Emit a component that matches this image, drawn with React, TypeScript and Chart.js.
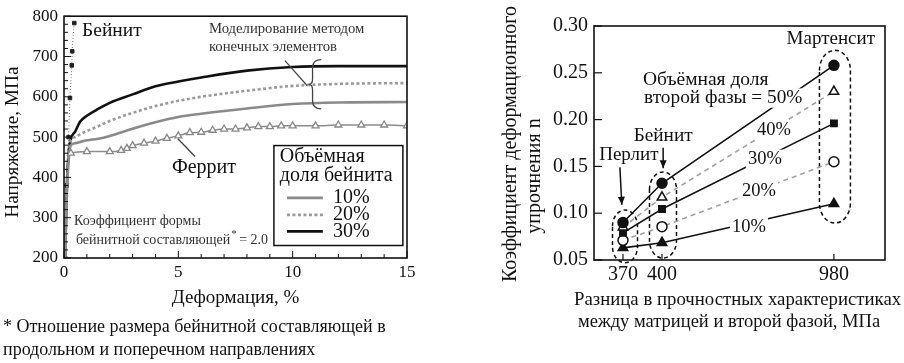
import React, { useEffect, useRef } from 'react';
import { Chart, registerables } from 'chart.js';
Chart.register(...registerables);

const FONT = '"Liberation Serif", "Times New Roman", serif';

// ---------- Left chart data (strain %, stress MPa) ----------
const femStrain = [0.05, 0.12, 0.2, 0.3, 0.5, 0.7, 1, 1.5, 2, 3, 4, 5, 6, 8, 10, 12, 15];
const fem10Stress = [200, 350, 440, 480, 485, 488, 492, 496, 503, 521, 537, 550, 558, 571, 582, 586, 587];
const fem20Stress = [200, 360, 450, 492, 500, 507, 515, 527, 540, 560, 577, 590, 600, 615, 627, 632, 634];
const fem30Stress = [200, 370, 460, 495, 515, 538, 553, 570, 585, 606, 626, 638, 648, 665, 674, 676, 676];

const ferriteStrain = [0.05, 0.15, 0.3, 1, 2, 2.5, 2.75, 3, 3.5, 4, 4.5, 5, 5.5, 6, 6.5, 7, 7.5, 8, 8.5, 9, 9.5, 10, 11, 12, 13, 14, 15];
const ferriteStress = [200, 400, 460, 464, 464, 467, 472, 479, 485, 490, 497, 503, 511, 512, 517, 520, 520, 523, 526, 526, 528, 528, 528, 530, 530, 530, 528];

const bainiteStrain = [0.05, 0.12, 0.2, 0.26, 0.34, 0.36, 0.45];
const bainiteStress = [200, 380, 500, 597, 678, 713, 783];

const leftXTicks = [0, 5, 10, 15];
const leftYTicks = [200, 300, 400, 500, 600, 700, 800];

// ---------- Right chart data ----------
const diffLabels = ['370', '400', '980'];
const diffSlots = [0, 1, 5.41];
const frac50 = [0.090, 0.132, 0.258];
const frac40 = [0.085, 0.117, 0.230];
const frac30 = [0.079, 0.1045, 0.196];
const frac20 = [0.071, 0.0856, 0.155];
const frac10 = [0.063, 0.0685, 0.110];
const rightYTicks = [0.05, 0.10, 0.15, 0.20, 0.25, 0.30];

const pts = (xs: number[], ys: number[]) => xs.map((x, i) => ({ x, y: ys[i] }));

function text(ctx: CanvasRenderingContext2D, s: string, x: number, y: number, size: number, align: CanvasTextAlign = 'left', color = '#111', bg = false) {
  ctx.save();
  ctx.font = `${size}px ${FONT}`;
  ctx.textAlign = align;
  ctx.textBaseline = 'middle';
  if (bg) {
    const w = ctx.measureText(s).width;
    let x0 = x;
    if (align === 'center') x0 = x - w / 2;
    else if (align === 'right') x0 = x - w;
    ctx.fillStyle = '#fff';
    ctx.fillRect(x0 - 2, y - size * 0.5, w + 4, size);
  }
  ctx.fillStyle = color;
  ctx.fillText(s, x, y);
  ctx.restore();
}

function vtext(ctx: CanvasRenderingContext2D, s: string, x: number, y: number, size: number) {
  ctx.save();
  ctx.translate(x, y);
  ctx.rotate(-Math.PI / 2);
  ctx.font = `${size}px ${FONT}`;
  ctx.textAlign = 'center';
  ctx.textBaseline = 'middle';
  ctx.fillStyle = '#111';
  ctx.fillText(s, 0, 0);
  ctx.restore();
}

function line(ctx: CanvasRenderingContext2D, x1: number, y1: number, x2: number, y2: number, color = '#111', w = 1.2) {
  ctx.save();
  ctx.strokeStyle = color;
  ctx.lineWidth = w;
  ctx.beginPath();
  ctx.moveTo(x1, y1);
  ctx.lineTo(x2, y2);
  ctx.stroke();
  ctx.restore();
}

function arrow(ctx: CanvasRenderingContext2D, x1: number, y1: number, x2: number, y2: number) {
  line(ctx, x1, y1, x2, y2, '#111', 1.5);
  const a = Math.atan2(y2 - y1, x2 - x1);
  ctx.save();
  ctx.fillStyle = '#111';
  ctx.beginPath();
  ctx.moveTo(x2, y2);
  ctx.lineTo(x2 - 8 * Math.cos(a) + 3.5 * Math.sin(a), y2 - 8 * Math.sin(a) - 3.5 * Math.cos(a));
  ctx.lineTo(x2 - 8 * Math.cos(a) - 3.5 * Math.sin(a), y2 - 8 * Math.sin(a) + 3.5 * Math.cos(a));
  ctx.closePath();
  ctx.fill();
  ctx.restore();
}

function capsule(ctx: CanvasRenderingContext2D, cx: number, top: number, bottom: number, hw: number) {
  const ry = hw * 1.3;
  ctx.save();
  ctx.strokeStyle = '#111';
  ctx.lineWidth = 1.5;
  ctx.setLineDash([4, 3]);
  ctx.beginPath();
  ctx.ellipse(cx, top + ry, hw, ry, 0, Math.PI, 2 * Math.PI);
  ctx.lineTo(cx + hw, bottom - ry);
  ctx.ellipse(cx, bottom - ry, hw, ry, 0, 0, Math.PI);
  ctx.closePath();
  ctx.stroke();
  ctx.restore();
}

const leftPlugin = {
  id: 'leftDeco',
  afterDatasetsDraw(chart: any) {
    const ctx: CanvasRenderingContext2D = chart.ctx;
    const xs = chart.scales.x, ys = chart.scales.y;
    const X = (v: number) => xs.getPixelForValue(v);
    const Y = (v: number) => ys.getPixelForValue(v);
    const a = chart.chartArea;
    // frame
    ctx.save();
    ctx.strokeStyle = '#111';
    ctx.lineWidth = 1.6;
    ctx.strokeRect(a.left, a.top, a.right - a.left, a.bottom - a.top);
    ctx.restore();
    // inward ticks
    for (let v = 200; v <= 800; v += 20) {
      const major = v % 100 === 0;
      line(ctx, a.left, Y(v), a.left + (major ? 7 : 4), Y(v), '#111', 1);
    }
    for (let v = 0; v <= 15; v += 1) {
      const major = v % 5 === 0;
      line(ctx, X(v), a.bottom, X(v), a.bottom - (major ? 7 : 4), '#111', 1);
    }
    // annotations
    text(ctx, 'Бейнит', X(0.79), Y(763), 19.5);
    text(ctx, 'Моделирование методом', X(6.34), Y(768), 14.7, 'left', '#333');
    text(ctx, 'конечных элементов', X(6.34), Y(722), 14.7, 'left', '#333');
    line(ctx, X(9.66), Y(690), X(10.63), Y(628), '#444', 1.2);
    // brace
    ctx.save();
    ctx.strokeStyle = '#444';
    ctx.lineWidth = 1.3;
    ctx.beginPath();
    ctx.moveTo(X(11.25), Y(692));
    ctx.quadraticCurveTo(X(10.87), Y(692), X(10.87), Y(672));
    ctx.lineTo(X(10.87), Y(645));
    ctx.quadraticCurveTo(X(10.87), Y(631), X(10.7), Y(631));
    ctx.quadraticCurveTo(X(10.87), Y(631), X(10.87), Y(617));
    ctx.lineTo(X(10.87), Y(590));
    ctx.quadraticCurveTo(X(10.87), Y(570), X(11.25), Y(570));
    ctx.stroke();
    ctx.restore();
    text(ctx, 'Феррит', X(4.72), Y(425), 20);
    line(ctx, X(4.98), Y(496), X(5.73), Y(452), '#444', 1.3);
    // legend box
    ctx.save();
    ctx.fillStyle = '#fff';
    ctx.fillRect(X(9.18), Y(479), X(14.82) - X(9.18), Y(231) - Y(479));
    ctx.strokeStyle = '#111';
    ctx.lineWidth = 1.5;
    ctx.strokeRect(X(9.18), Y(479), X(14.82) - X(9.18), Y(231) - Y(479));
    ctx.restore();
    text(ctx, 'Объёмная', X(9.44), Y(452), 20);
    text(ctx, 'доля бейнита', X(9.44), Y(405), 20);
    const legendRows: [string, string, number[], number][] = [
      ['10%', '#8a8a8a', [], 349],
      ['20%', '#9a9a9a', [3, 2.5], 307],
      ['30%', '#111', [], 266],
    ];
    legendRows.forEach(([lab, col, dash, v]) => {
      ctx.save();
      ctx.strokeStyle = col;
      ctx.lineWidth = 2.8;
      ctx.setLineDash(dash);
      ctx.beginPath();
      ctx.moveTo(X(9.75), Y(v));
      ctx.lineTo(X(11.32), Y(v));
      ctx.stroke();
      ctx.restore();
      text(ctx, lab, X(11.76), Y(v), 20);
    });
    text(ctx, 'Коэффициент формы', X(0.44), Y(290), 14, 'left', '#333');
    ctx.save();
    ctx.font = `14px ${FONT}`;
    const s1 = 'бейнитной составляющей';
    const w1 = ctx.measureText(s1).width;
    ctx.restore();
    text(ctx, s1, X(0.52), Y(244), 14, 'left', '#333');
    text(ctx, '*', X(0.52) + w1 + 1, Y(244) - 6, 11, 'left', '#333');
    text(ctx, '= 2.0', X(0.52) + w1 + 9, Y(244), 14, 'left', '#333');
  },
  afterDraw(chart: any) {
    const ctx: CanvasRenderingContext2D = chart.ctx;
    const a = chart.chartArea;
    vtext(ctx, 'Напряжение, МПа', 13, (a.top + a.bottom) / 2 + 5, 19.3);
    text(ctx, 'Деформация, %', (a.left + a.right) / 2, 298, 19, 'center');
    text(ctx, '* Отношение размера бейнитной составляющей в', 3, 327, 18);
    text(ctx, 'продольном и поперечном направлениях', 3, 350, 18);
  },
};

const rightPlugin = {
  id: 'rightDeco',
  beforeDatasetsDraw(chart: any) {
    const ctx: CanvasRenderingContext2D = chart.ctx;
    const xs = chart.scales.x, ys = chart.scales.y;
    const X = (v: number) => xs.getPixelForValue(v);
    const Y = (v: number) => ys.getPixelForValue(v);
    capsule(ctx, X(diffSlots[0]) + 2, Y(0.1034), Y(0.047), 12.5);
    capsule(ctx, X(diffSlots[1]) + 1, Y(0.144), Y(0.052), 13.5);
    capsule(ctx, X(diffSlots[2]) + 1, Y(0.274), Y(0.0895), 15.5);
  },
  afterDatasetsDraw(chart: any) {
    const ctx: CanvasRenderingContext2D = chart.ctx;
    const xs = chart.scales.x, ys = chart.scales.y;
    const X = (v: number) => xs.getPixelForValue(v);
    const Y = (v: number) => ys.getPixelForValue(v);
    const a = chart.chartArea;
    ctx.save();
    ctx.strokeStyle = '#111';
    ctx.lineWidth = 1.6;
    ctx.strokeRect(a.left, a.top, a.right - a.left, a.bottom - a.top);
    ctx.restore();
    rightYTicks.forEach((v) => line(ctx, a.left, Y(v), a.left + 8, Y(v), '#111', 1.2));
    diffSlots.forEach((v) => line(ctx, X(v), a.bottom, X(v), a.bottom - 6, '#111', 1.2));
    text(ctx, 'Мартенсит', X(5.33), Y(0.286), 19, 'center');
    text(ctx, 'Объёмная доля', X(0.51), Y(0.2423), 19.5);
    text(ctx, 'второй фазы = 50%', X(0.54), Y(0.223), 19.3, 'left', '#111', true);
    text(ctx, '40%', X(3.87), Y(0.189), 18.5, 'center', '#111', true);
    text(ctx, '30%', X(3.64), Y(0.158), 18.5, 'center', '#111', true);
    text(ctx, '20%', X(3.49), Y(0.1237), 18.5, 'center', '#111', true);
    text(ctx, '10%', X(3.23), Y(0.0853), 18.5, 'center', '#111', true);
    text(ctx, 'Бейнит', X(1.03), Y(0.1825), 19.3, 'center');
    text(ctx, 'Перлит', X(0.15), Y(0.162), 19, 'center');
    arrow(ctx, X(-0.08), Y(0.149), X(-0.03), Y(0.109));
    arrow(ctx, X(1.03), Y(0.170), X(1.03), Y(0.148));
  },
  afterDraw(chart: any) {
    const ctx: CanvasRenderingContext2D = chart.ctx;
    vtext(ctx, 'Коэффициент деформационного', 61, 144, 20);
    vtext(ctx, 'упрочнения n', 85, 176, 20);
    text(ctx, 'Разница в прочностных характеристиках', 124, 300, 18.8);
    text(ctx, 'между матрицей и второй фазой, МПа', 128, 322, 18.5);
  },
};

export default function App() {
  const leftRef = useRef<HTMLCanvasElement>(null);
  const rightRef = useRef<HTMLCanvasElement>(null);

  useEffect(() => {
    const tickFont = (size: number) => ({ family: FONT, size });
    const left = new Chart(leftRef.current!, {
      type: 'line',
      data: {
        datasets: [
          {
            data: pts(ferriteStrain, ferriteStress),
            borderColor: '#8c8c8c', borderWidth: 1.5,
            pointStyle: 'triangle',
            pointRadius: (c: any) => (c.dataIndex < 2 ? 0 : 4),
            pointBackgroundColor: '#fff', pointBorderColor: '#888', pointBorderWidth: 1.3,
            cubicInterpolationMode: 'monotone',
          },
          {
            data: pts(femStrain, fem10Stress),
            borderColor: '#8a8a8a', borderWidth: 2.6, pointRadius: 0,
            cubicInterpolationMode: 'monotone',
          },
          {
            data: pts(femStrain, fem20Stress),
            borderColor: '#9a9a9a', borderWidth: 2.6, borderDash: [3, 2.5], pointRadius: 0,
            cubicInterpolationMode: 'monotone',
          },
          {
            data: pts(femStrain, fem30Stress),
            borderColor: '#111', borderWidth: 2.6, pointRadius: 0,
            cubicInterpolationMode: 'monotone',
          },
          {
            data: pts(bainiteStrain, bainiteStress),
            borderColor: '#777', borderWidth: 1, borderDash: [1, 2],
            pointStyle: 'rect', pointRadius: 2.5,
            pointBackgroundColor: '#222', pointBorderColor: '#222',
            cubicInterpolationMode: 'monotone',
          },
        ],
      } as any,
      options: {
        responsive: false,
        animation: false,
        layout: { padding: { left: 0, top: 13, right: 43, bottom: 0 } },
        plugins: { legend: { display: false }, tooltip: { enabled: false } },
        scales: {
          x: {
            type: 'linear', min: 0, max: 15,
            afterBuildTicks: (s: any) => { s.ticks = leftXTicks.map((value) => ({ value })); },
            ticks: { padding: 4, color: '#111', font: tickFont(17) },
            grid: { display: false, drawTicks: false },
            border: { display: false },
            afterFit: (s: any) => { s.height = 105; },
          },
          y: {
            type: 'linear', min: 200, max: 800,
            afterBuildTicks: (s: any) => { s.ticks = leftYTicks.map((value) => ({ value })); },
            ticks: { padding: 6, color: '#111', font: tickFont(17) },
            grid: { display: false, drawTicks: false },
            border: { display: false },
            afterFit: (s: any) => { s.width = 64; },
          },
        },
      } as any,
      plugins: [leftPlugin],
    });

    const series = [
      { v: frac50, color: '#111', dash: [], style: 'circle', r: 5, bg: '#111' },
      { v: frac40, color: '#a0a0a0', dash: [5, 4], style: 'triangle', r: 5.5, bg: '#fff' },
      { v: frac30, color: '#111', dash: [], style: 'rect', r: 4.5, bg: '#111' },
      { v: frac20, color: '#a0a0a0', dash: [5, 4], style: 'circle', r: 5, bg: '#fff' },
      { v: frac10, color: '#111', dash: [], style: 'triangle', r: 5.5, bg: '#111' },
    ];
    const right = new Chart(rightRef.current!, {
      type: 'line',
      data: {
        datasets: series.map((s) => ({
          data: pts(diffSlots, s.v),
          borderColor: s.color, borderWidth: 1.6, borderDash: s.dash,
          pointStyle: s.style, pointRadius: s.r,
          pointBackgroundColor: s.bg, pointBorderColor: '#111', pointBorderWidth: 1.5,
          tension: 0,
        })),
      } as any,
      options: {
        responsive: false,
        animation: false,
        layout: { padding: { left: 0, top: 26, right: 19, bottom: 0 } },
        plugins: { legend: { display: false }, tooltip: { enabled: false } },
        scales: {
          x: {
            type: 'linear', min: -0.744, max: 6.72,
            afterBuildTicks: (s: any) => { s.ticks = diffSlots.map((value) => ({ value })); },
            ticks: { padding: 3, color: '#111', font: tickFont(20), callback: (_v: any, i: number) => diffLabels[i] },
            grid: { display: false, drawTicks: false },
            border: { display: false },
            afterFit: (s: any) => { s.height = 103; },
          },
          y: {
            type: 'linear', min: 0.05, max: 0.30,
            afterBuildTicks: (s: any) => { s.ticks = rightYTicks.map((value) => ({ value })); },
            ticks: { padding: 6, color: '#111', font: tickFont(20), callback: (v: any) => Number(v).toFixed(2) },
            grid: { display: false, drawTicks: false },
            border: { display: false },
            afterFit: (s: any) => { s.width = 144; },
          },
        },
      } as any,
      plugins: [rightPlugin],
    });

    return () => {
      left.destroy();
      right.destroy();
    };
  }, []);

  return (
    <div style={{ position: 'absolute', left: 0, top: 0, width: 904, height: 363, background: '#fff' }}>
      <canvas ref={leftRef} width={450} height={363} style={{ position: 'absolute', left: 0, top: 0, width: 450, height: 363 }} />
      <canvas ref={rightRef} width={454} height={363} style={{ position: 'absolute', left: 450, top: 0, width: 454, height: 363 }} />
    </div>
  );
}
